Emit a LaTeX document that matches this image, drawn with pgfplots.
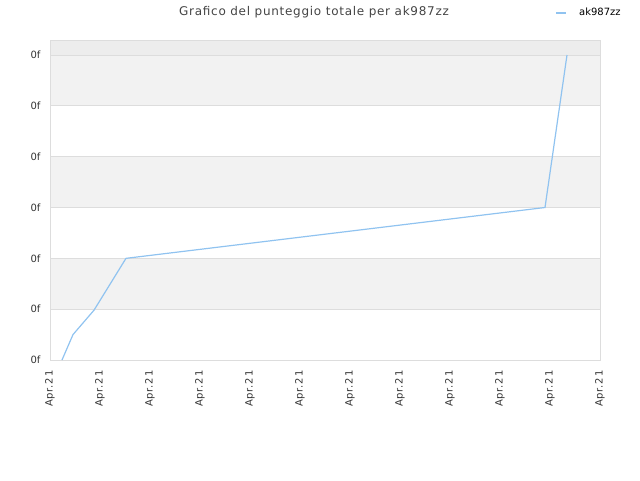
\documentclass[border=0pt]{standalone}
\usepackage{pgfplots}
\pgfplotsset{compat=1.18}
\usepackage{fontspec}
\setmainfont{DejaVu Sans}
\newfontfamily\spaced[LetterSpace=6]{DejaVu Sans}
\newfontfamily\tickspaced[LetterSpace=8]{DejaVu Sans}
\definecolor{band}{HTML}{F2F2F2}
\definecolor{topband}{HTML}{EDEDED}
\definecolor{gridc}{HTML}{DDDDDD}
\definecolor{linec}{HTML}{90C3F0}
\definecolor{titlec}{HTML}{444444}
\definecolor{tickc}{HTML}{333333}
\begin{document}
\begin{tikzpicture}
\path (0pt,0pt) rectangle (640pt,480pt);
\node[font=\spaced\fontsize{12}{14}\selectfont, text=titlec, anchor=base] at (314pt,464pt) {Grafico del punteggio totale per ak987zz};
\draw[linec, line width=1.2pt] (556pt,467pt) -- (566pt,467pt);
\node[font=\fontsize{10}{12}\selectfont, anchor=base west, inner sep=0pt] at (579pt,464pt) {ak987zz};
\begin{axis}[
  set layers,
  at={(50pt,120pt)}, anchor=south west,
  scale only axis, width=550pt, height=320pt,
  xmin=0, xmax=11, ymin=0, ymax=6.2953,
  xtick={0,1,...,11},
  xticklabels={Apr.21,Apr.21,Apr.21,Apr.21,Apr.21,Apr.21,Apr.21,Apr.21,Apr.21,Apr.21,Apr.21,Apr.21},
  xticklabel style={rotate=90, anchor=east, font=\tickspaced\fontsize{10}{12}\selectfont, text=tickc, xshift=-7pt},
  ytick={0,1,...,6},
  yticklabels={0f,0f,0f,0f,0f,0f,0f},
  yticklabel style={font=\fontsize{10}{12}\selectfont, text=tickc, xshift=-6pt},
  ymajorgrids, major grid style={gridc, line width=0.8pt},
  axis line style={gridc, line width=0.8pt},
  major tick length=0pt,
  tick style={draw=none},
]
\addplot[on layer=axis background, fill=band, draw=none] coordinates {(0,1) (11,1) (11,2) (0,2)} -- cycle;
\addplot[on layer=axis background, fill=band, draw=none] coordinates {(0,3) (11,3) (11,4) (0,4)} -- cycle;
\addplot[on layer=axis background, fill=band, draw=none] coordinates {(0,5) (11,5) (11,6) (0,6)} -- cycle;
\addplot[on layer=axis background, fill=topband, draw=none] coordinates {(0,6) (11,6) (11,6.2953) (0,6.2953)} -- cycle;
\addplot[linec, line width=1.2pt] coordinates {
(0.24,0) (0.46,0.5) (0.88,0.98) (1.52,2.0) (9.9,3.0) (10.34,6.0)
};
\end{axis}
\end{tikzpicture}
\end{document}
